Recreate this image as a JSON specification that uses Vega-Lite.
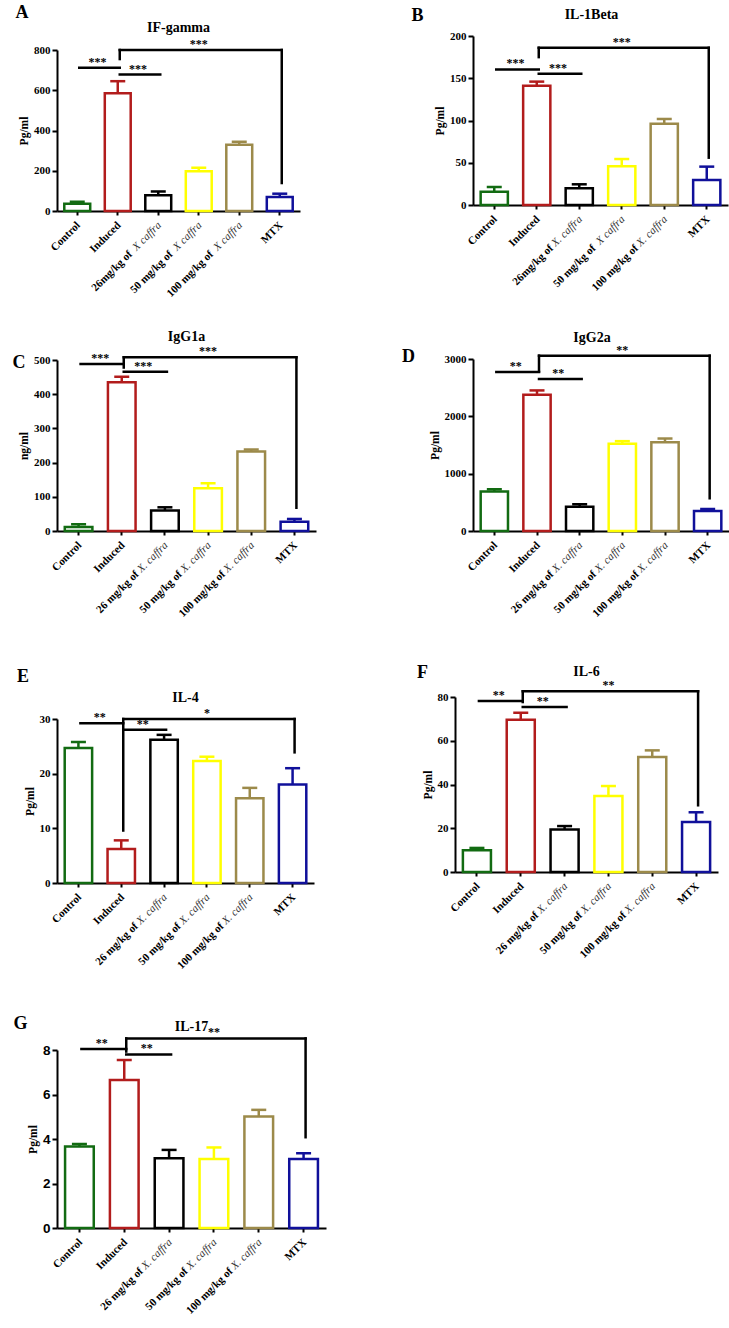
{
  "$schema": "https://vega.github.io/schema/vega-lite/v6.json",
  "background": "white",
  "padding": {"left": 12, "top": 4, "right": 0, "bottom": 0},
  "config": {
    "view": {"stroke": null},
    "font": "Liberation Serif",
    "axis": {"domainColor": "black", "domainWidth": 2, "tickColor": "black", "tickWidth": 2, "tickSize": 5, "grid": false, "labelFont": "Liberation Serif", "labelFontWeight": "bold", "labelFontSize": 11, "labelColor": "black", "titleFont": "Liberation Serif", "titleFontWeight": "bold", "titleFontSize": 11.5, "titleColor": "black"},
    "title": {"font": "Liberation Serif", "fontWeight": "bold", "fontSize": 14, "color": "black"},
    "text": {"color": "black", "font": "Liberation Serif"},
    "rule": {"color": "black"}
  },
  "data": {"values": [
    {"p":"A","k":"bar","g":"Control","m":36,"e":46,"lb":"Control","li":""},
    {"p":"A","k":"bar","g":"Induced","m":585,"e":645,"lb":"Induced","li":""},
    {"p":"A","k":"bar","g":"26 mg","m":78,"e":97,"lb":"26mg/kg of","li":"X caffra"},
    {"p":"A","k":"bar","g":"50 mg","m":197,"e":215,"lb":"50 mg/kg of","li":"X caffra"},
    {"p":"A","k":"bar","g":"100 mg","m":329,"e":344,"lb":"100 mg/kg of","li":"X caffra"},
    {"p":"A","k":"bar","g":"MTX","m":69,"e":86,"lb":"MTX","li":""},
    {"p":"A","k":"seg","g":"Control","g2":"Induced","m":712,"m2":712},
    {"p":"A","k":"seg","g":"Induced","g2":"26 mg","m":678,"m2":678},
    {"p":"A","k":"seg","g":"Induced","g2":"Induced","m":755,"m2":800},
    {"p":"A","k":"seg","g":"Induced","g2":"MTX","m":800,"m2":800},
    {"p":"A","k":"seg","g":"MTX","g2":"MTX","m":800,"m2":139},
    {"p":"A","k":"star","g":"Control","m":712,"t":"***","mid":true},
    {"p":"A","k":"star","g":"Induced","m":678,"t":"***","mid":true},
    {"p":"A","k":"star","g":"50 mg","m":800,"t":"***","mid":false},

    {"p":"B","k":"bar","g":"Control","m":15.8,"e":21.3,"lb":"Control","li":""},
    {"p":"B","k":"bar","g":"Induced","m":141,"e":146,"lb":"Induced","li":""},
    {"p":"B","k":"bar","g":"26 mg","m":19.7,"e":24.5,"lb":"26mg/kg of","li":"X. caffra"},
    {"p":"B","k":"bar","g":"50 mg","m":45.8,"e":54.4,"lb":"50 mg/kg of","li":"X caffra"},
    {"p":"B","k":"bar","g":"100 mg","m":96.3,"e":101.8,"lb":"100 mg/kg of","li":"X. caffra"},
    {"p":"B","k":"bar","g":"MTX","m":29.6,"e":45.4,"lb":"MTX","li":""},
    {"p":"B","k":"seg","g":"Control","g2":"Induced","m":160.5,"m2":160.5},
    {"p":"B","k":"seg","g":"Induced","g2":"26 mg","m":155.4,"m2":155.4},
    {"p":"B","k":"seg","g":"Induced","g2":"Induced","m":175,"m2":186},
    {"p":"B","k":"seg","g":"Induced","g2":"MTX","m":186,"m2":186},
    {"p":"B","k":"seg","g":"MTX","g2":"MTX","m":186,"m2":56},
    {"p":"B","k":"star","g":"Control","m":160.5,"t":"***","mid":true},
    {"p":"B","k":"star","g":"Induced","m":155.4,"t":"***","mid":true},
    {"p":"B","k":"star","g":"50 mg","m":186,"t":"***","mid":false},

    {"p":"C","k":"bar","g":"Control","m":11.7,"e":19.5,"lb":"Control","li":""},
    {"p":"C","k":"bar","g":"Induced","m":435,"e":451,"lb":"Induced","li":""},
    {"p":"C","k":"bar","g":"26 mg","m":59.6,"e":69.3,"lb":"26 mg/kg of","li":"X. caffra"},
    {"p":"C","k":"bar","g":"50 mg","m":125,"e":139.6,"lb":"50 mg/kg of","li":"X. caffra"},
    {"p":"C","k":"bar","g":"100 mg","m":232.4,"e":238.3,"lb":"100 mg/kg of","li":"X. caffra"},
    {"p":"C","k":"bar","g":"MTX","m":27.3,"e":35.2,"lb":"MTX","li":""},
    {"p":"C","k":"seg","g":"Control","g2":"Induced","m":488,"m2":488},
    {"p":"C","k":"seg","g":"Induced","g2":"26 mg","m":466,"m2":466},
    {"p":"C","k":"seg","g":"Induced","g2":"Induced","m":478,"m2":508},
    {"p":"C","k":"seg","g":"Induced","g2":"MTX","m":508,"m2":508},
    {"p":"C","k":"seg","g":"MTX","g2":"MTX","m":508,"m2":68},
    {"p":"C","k":"star","g":"Control","m":488,"t":"***","mid":true},
    {"p":"C","k":"star","g":"Induced","m":466,"t":"***","mid":true},
    {"p":"C","k":"star","g":"50 mg","m":508,"t":"***","mid":false},

    {"p":"D","k":"bar","g":"Control","m":687,"e":728,"lb":"Control","li":""},
    {"p":"D","k":"bar","g":"Induced","m":2376,"e":2452,"lb":"Induced","li":""},
    {"p":"D","k":"bar","g":"26 mg","m":425,"e":466,"lb":"26 mg/kg of","li":"X. caffra"},
    {"p":"D","k":"bar","g":"50 mg","m":1520,"e":1567,"lb":"50 mg/kg of","li":"X. caffra"},
    {"p":"D","k":"bar","g":"100 mg","m":1549,"e":1613,"lb":"100 mg/kg of","li":"X. caffra"},
    {"p":"D","k":"bar","g":"MTX","m":349,"e":384,"lb":"MTX","li":""},
    {"p":"D","k":"seg","g":"Control","g2":"Induced","m":2772,"m2":2772},
    {"p":"D","k":"seg","g":"Induced","g2":"26 mg","m":2650,"m2":2650},
    {"p":"D","k":"seg","g":"Induced","g2":"Induced","m":2784,"m2":3058},
    {"p":"D","k":"seg","g":"Induced","g2":"MTX","m":3058,"m2":3058},
    {"p":"D","k":"seg","g":"MTX","g2":"MTX","m":3058,"m2":571},
    {"p":"D","k":"star","g":"Control","m":2772,"t":"**","mid":true},
    {"p":"D","k":"star","g":"Induced","m":2650,"t":"**","mid":true},
    {"p":"D","k":"star","g":"50 mg","m":3058,"t":"**","mid":false},

    {"p":"E","k":"bar","g":"Control","m":24.7,"e":25.8,"lb":"Control","li":""},
    {"p":"E","k":"bar","g":"Induced","m":6.2,"e":7.8,"lb":"Induced","li":""},
    {"p":"E","k":"bar","g":"26 mg","m":26.2,"e":27.1,"lb":"26 mg/kg of","li":"X. caffra"},
    {"p":"E","k":"bar","g":"50 mg","m":22.3,"e":23.1,"lb":"50 mg/kg of","li":"X. caffra"},
    {"p":"E","k":"bar","g":"100 mg","m":15.5,"e":17.4,"lb":"100 mg/kg of","li":"X. caffra"},
    {"p":"E","k":"bar","g":"MTX","m":18.0,"e":21.0,"lb":"MTX","li":""},
    {"p":"E","k":"seg","g":"Control","g2":"Induced","m":29.2,"m2":29.2},
    {"p":"E","k":"seg","g":"Induced","g2":"26 mg","m":28.05,"m2":28.05},
    {"p":"E","k":"seg","g":"Induced","g2":"Induced","m":9.6,"m2":30},
    {"p":"E","k":"seg","g":"Induced","g2":"MTX","m":30,"m2":30},
    {"p":"E","k":"seg","g":"MTX","g2":"MTX","m":30,"m2":23.9},
    {"p":"E","k":"star","g":"Control","m":29.2,"t":"**","mid":true},
    {"p":"E","k":"star","g":"Induced","m":28.05,"t":"**","mid":true},
    {"p":"E","k":"star","g":"50 mg","m":30,"t":"*","mid":false},

    {"p":"F","k":"bar","g":"Control","m":9.9,"e":11.0,"lb":"Control","li":""},
    {"p":"F","k":"bar","g":"Induced","m":69.6,"e":72.8,"lb":"Induced","li":""},
    {"p":"F","k":"bar","g":"26 mg","m":19.4,"e":21.0,"lb":"26 mg/kg of","li":"X. caffra"},
    {"p":"F","k":"bar","g":"50 mg","m":34.7,"e":39.3,"lb":"50 mg/kg of","li":"X. caffra"},
    {"p":"F","k":"bar","g":"100 mg","m":52.6,"e":55.6,"lb":"100 mg/kg of","li":"X. caffra"},
    {"p":"F","k":"bar","g":"MTX","m":22.9,"e":27.3,"lb":"MTX","li":""},
    {"p":"F","k":"seg","g":"Control","g2":"Induced","m":78.2,"m2":78.2},
    {"p":"F","k":"seg","g":"Induced","g2":"26 mg","m":75.4,"m2":75.4},
    {"p":"F","k":"seg","g":"Induced","g2":"Induced","m":77.7,"m2":82.6},
    {"p":"F","k":"seg","g":"Induced","g2":"MTX","m":82.6,"m2":82.6},
    {"p":"F","k":"seg","g":"MTX","g2":"MTX","m":82.6,"m2":30.5},
    {"p":"F","k":"star","g":"Control","m":78.2,"t":"**","mid":true},
    {"p":"F","k":"star","g":"Induced","m":75.4,"t":"**","mid":true},
    {"p":"F","k":"star","g":"50 mg","m":82.6,"t":"**","mid":false},

    {"p":"G","k":"bar","g":"Control","m":3.66,"e":3.78,"lb":"Control","li":""},
    {"p":"G","k":"bar","g":"Induced","m":6.65,"e":7.55,"lb":"Induced","li":""},
    {"p":"G","k":"bar","g":"26 mg","m":3.14,"e":3.51,"lb":"26 mg/kg of","li":"X. caffra"},
    {"p":"G","k":"bar","g":"50 mg","m":3.10,"e":3.62,"lb":"50 mg/kg of","li":"X. caffra"},
    {"p":"G","k":"bar","g":"100 mg","m":5.01,"e":5.31,"lb":"100 mg/kg of","li":"X. caffra"},
    {"p":"G","k":"bar","g":"MTX","m":3.10,"e":3.36,"lb":"MTX","li":""},
    {"p":"G","k":"seg","g":"Control","g2":"Induced","m":8.04,"m2":8.04},
    {"p":"G","k":"seg","g":"Induced","g2":"26 mg","m":7.8,"m2":7.8},
    {"p":"G","k":"seg","g":"Induced","g2":"Induced","m":7.93,"m2":8.52},
    {"p":"G","k":"seg","g":"Induced","g2":"MTX","m":8.52,"m2":8.52},
    {"p":"G","k":"seg","g":"MTX","g2":"MTX","m":8.52,"m2":4.08},
    {"p":"G","k":"star","g":"Control","m":8.04,"t":"**","mid":true},
    {"p":"G","k":"star","g":"Induced","m":7.8,"t":"**","mid":true},
    {"p":"G","k":"star","g":"50 mg","m":8.52,"t":"**","mid":false}
  ]},
  "columns": 2,
  "align": "none",
  "spacing": 76,
  "concat": [
    {
      "spacing": 30,
      "vconcat": [
        {
          "title": {"text": "A", "anchor": "start", "frame": "bounds", "fontSize": 18, "dx": -3, "offset": -1},
          "vconcat": [{
            "width": 243, "height": 175,
            "title": {"text": "IF-gamma", "offset": 1},
            "transform": [{"filter": "datum.p === 'A'"}],
            "encoding": {
              "x": {"field": "g", "type": "nominal", "sort": null, "scale": {"domain": ["Control","Induced","26 mg","50 mg","100 mg","MTX"], "paddingInner": 0.36, "paddingOuter": 0.18}, "axis": {"labels": false, "title": null, "tickSize": 4}},
              "y": {"field": "m", "type": "quantitative", "scale": {"domain": [0, 800], "nice": false, "range": [175, 14]}, "axis": {"values": [0,200,400,600,800], "title": "Pg/ml"}}
            },
            "layer": [
              {"transform": [{"filter": "datum.k === 'bar'"}], "mark": {"type": "bar", "fill": "white", "strokeWidth": 2.5}, "encoding": {"stroke": {"field": "g", "type": "nominal", "scale": {"domain": ["Control","Induced","26 mg","50 mg","100 mg","MTX"], "range": ["#126b12","#b21c1c","#000000","#ffff00","#9c8a4a","#10109a"]}, "legend": null}}},
              {"transform": [{"filter": "datum.k === 'bar'"}], "mark": {"type": "rule", "strokeWidth": 2.5}, "encoding": {"y2": {"field": "e"}, "stroke": {"field": "g", "type": "nominal", "legend": null}}},
              {"transform": [{"filter": "datum.k === 'bar'"}], "mark": {"type": "tick", "size": 15, "thickness": 2.5, "opacity": 1}, "encoding": {"y": {"field": "e", "type": "quantitative"}, "color": {"field": "g", "type": "nominal", "scale": {"domain": ["Control","Induced","26 mg","50 mg","100 mg","MTX"], "range": ["#126b12","#b21c1c","#000000","#ffff00","#9c8a4a","#10109a"]}, "legend": null}}},
              {"transform": [{"filter": "datum.k === 'seg'"}], "mark": {"type": "rule", "color": "black", "strokeWidth": 2.5, "strokeCap": "square", "xOffset": 2, "x2Offset": 2}, "encoding": {"x2": {"field": "g2"}, "y2": {"field": "m2"}}},
              {"transform": [{"filter": "datum.k === 'star' && datum.mid"}], "mark": {"type": "text", "color": "black", "fontSize": 12, "fontWeight": "bold", "baseline": "alphabetic", "dy": -2}, "encoding": {"x": {"field": "g", "type": "nominal", "bandPosition": 1.28}, "text": {"field": "t"}}},
              {"transform": [{"filter": "datum.k === 'star' && !datum.mid"}], "mark": {"type": "text", "color": "black", "fontSize": 12, "fontWeight": "bold", "baseline": "alphabetic", "dy": -2}, "encoding": {"text": {"field": "t"}}},
              {"transform": [{"filter": "datum.k === 'bar' && datum.li === ''"}], "mark": {"type": "text", "color": "black", "angle": 315, "align": "right", "baseline": "middle", "fontSize": 11, "fontWeight": "bold", "dx": -8, "dy": 10}, "encoding": {"y": {"datum": 0}, "text": {"field": "lb"}}},
              {"transform": [{"filter": "datum.k === 'bar' && datum.li !== ''"}], "mark": {"type": "text", "color": "black", "angle": 315, "align": "right", "baseline": "middle", "fontSize": 11, "fontWeight": "bold", "dx": -49, "dy": 10}, "encoding": {"y": {"datum": 0}, "text": {"field": "lb"}}},
              {"transform": [{"filter": "datum.k === 'bar' && datum.li !== ''"}], "mark": {"type": "text", "angle": 315, "align": "right", "baseline": "middle", "fontSize": 11, "fontStyle": "italic", "fontWeight": "normal", "color": "#333333", "dx": -8, "dy": 10}, "encoding": {"y": {"datum": 0}, "text": {"field": "li"}}}
            ]
          }]
        },
        {
          "spacing": 48,
          "vconcat": [
            {
              "title": {"text": "C", "anchor": "start", "frame": "bounds", "fontSize": 18, "dx": -6, "dy": 26, "offset": -16},
              "vconcat": [{
                "width": 259, "height": 171,
                "title": {"text": "IgG1a", "offset": 1},
                "transform": [{"filter": "datum.p === 'C'"}],
                "encoding": {
                  "x": {"field": "g", "type": "nominal", "sort": null, "scale": {"domain": ["Control","Induced","26 mg","50 mg","100 mg","MTX"], "paddingInner": 0.36, "paddingOuter": 0.18}, "axis": {"labels": false, "title": null, "tickSize": 4}},
                  "y": {"field": "m", "type": "quantitative", "scale": {"domain": [0, 500], "nice": false}, "axis": {"values": [0,100,200,300,400,500], "title": "ng/ml"}}
                },
                "layer": [
                  {"transform": [{"filter": "datum.k === 'bar'"}], "mark": {"type": "bar", "fill": "white", "strokeWidth": 2.5}, "encoding": {"stroke": {"field": "g", "type": "nominal", "scale": {"domain": ["Control","Induced","26 mg","50 mg","100 mg","MTX"], "range": ["#126b12","#b21c1c","#000000","#ffff00","#9c8a4a","#10109a"]}, "legend": null}}},
                  {"transform": [{"filter": "datum.k === 'bar'"}], "mark": {"type": "rule", "strokeWidth": 2.5}, "encoding": {"y2": {"field": "e"}, "stroke": {"field": "g", "type": "nominal", "legend": null}}},
                  {"transform": [{"filter": "datum.k === 'bar'"}], "mark": {"type": "tick", "size": 15, "thickness": 2.5, "opacity": 1}, "encoding": {"y": {"field": "e", "type": "quantitative"}, "color": {"field": "g", "type": "nominal", "scale": {"domain": ["Control","Induced","26 mg","50 mg","100 mg","MTX"], "range": ["#126b12","#b21c1c","#000000","#ffff00","#9c8a4a","#10109a"]}, "legend": null}}},
                  {"transform": [{"filter": "datum.k === 'seg'"}], "mark": {"type": "rule", "color": "black", "strokeWidth": 2.5, "strokeCap": "square", "xOffset": 2, "x2Offset": 2}, "encoding": {"x2": {"field": "g2"}, "y2": {"field": "m2"}}},
                  {"transform": [{"filter": "datum.k === 'star' && datum.mid"}], "mark": {"type": "text", "color": "black", "fontSize": 12, "fontWeight": "bold", "baseline": "alphabetic", "dy": -2}, "encoding": {"x": {"field": "g", "type": "nominal", "bandPosition": 1.28}, "text": {"field": "t"}}},
                  {"transform": [{"filter": "datum.k === 'star' && !datum.mid"}], "mark": {"type": "text", "color": "black", "fontSize": 12, "fontWeight": "bold", "baseline": "alphabetic", "dy": -2}, "encoding": {"text": {"field": "t"}}},
                  {"transform": [{"filter": "datum.k === 'bar' && datum.li === ''"}], "mark": {"type": "text", "color": "black", "angle": 315, "align": "right", "baseline": "middle", "fontSize": 11, "fontWeight": "bold", "dx": -8, "dy": 10}, "encoding": {"y": {"datum": 0}, "text": {"field": "lb"}}},
                  {"transform": [{"filter": "datum.k === 'bar' && datum.li !== ''"}], "mark": {"type": "text", "color": "black", "angle": 315, "align": "right", "baseline": "middle", "fontSize": 11, "fontWeight": "bold", "dx": -49, "dy": 10}, "encoding": {"y": {"datum": 0}, "text": {"field": "lb"}}},
                  {"transform": [{"filter": "datum.k === 'bar' && datum.li !== ''"}], "mark": {"type": "text", "angle": 315, "align": "right", "baseline": "middle", "fontSize": 11, "fontStyle": "italic", "fontWeight": "normal", "color": "#333333", "dx": -8, "dy": 10}, "encoding": {"y": {"datum": 0}, "text": {"field": "li"}}}
                ]
              }]
            },
            {
              "spacing": 43,
              "vconcat": [
                {
                  "title": {"text": "E", "anchor": "start", "frame": "bounds", "fontSize": 18, "dx": -7, "offset": 5},
                  "vconcat": [{
                    "width": 257, "height": 164,
                    "title": {"text": "IL-4", "offset": 2},
                    "transform": [{"filter": "datum.p === 'E'"}],
                    "encoding": {
                      "x": {"field": "g", "type": "nominal", "sort": null, "scale": {"domain": ["Control","Induced","26 mg","50 mg","100 mg","MTX"], "paddingInner": 0.36, "paddingOuter": 0.18}, "axis": {"labels": false, "title": null, "tickSize": 4}},
                      "y": {"field": "m", "type": "quantitative", "scale": {"domain": [0, 30], "nice": false}, "axis": {"values": [0,10,20,30], "title": "Pg/ml"}}
                    },
                    "layer": [
                      {"transform": [{"filter": "datum.k === 'bar'"}], "mark": {"type": "bar", "fill": "white", "strokeWidth": 2.5}, "encoding": {"stroke": {"field": "g", "type": "nominal", "scale": {"domain": ["Control","Induced","26 mg","50 mg","100 mg","MTX"], "range": ["#126b12","#b21c1c","#000000","#ffff00","#9c8a4a","#10109a"]}, "legend": null}}},
                      {"transform": [{"filter": "datum.k === 'bar'"}], "mark": {"type": "rule", "strokeWidth": 2.5}, "encoding": {"y2": {"field": "e"}, "stroke": {"field": "g", "type": "nominal", "legend": null}}},
                      {"transform": [{"filter": "datum.k === 'bar'"}], "mark": {"type": "tick", "size": 15, "thickness": 2.5, "opacity": 1}, "encoding": {"y": {"field": "e", "type": "quantitative"}, "color": {"field": "g", "type": "nominal", "scale": {"domain": ["Control","Induced","26 mg","50 mg","100 mg","MTX"], "range": ["#126b12","#b21c1c","#000000","#ffff00","#9c8a4a","#10109a"]}, "legend": null}}},
                      {"transform": [{"filter": "datum.k === 'seg'"}], "mark": {"type": "rule", "color": "black", "strokeWidth": 2.5, "strokeCap": "square", "xOffset": 2, "x2Offset": 2}, "encoding": {"x2": {"field": "g2"}, "y2": {"field": "m2"}}},
                      {"transform": [{"filter": "datum.k === 'star' && datum.mid"}], "mark": {"type": "text", "color": "black", "fontSize": 12, "fontWeight": "bold", "baseline": "alphabetic", "dy": -2}, "encoding": {"x": {"field": "g", "type": "nominal", "bandPosition": 1.28}, "text": {"field": "t"}}},
                      {"transform": [{"filter": "datum.k === 'star' && !datum.mid"}], "mark": {"type": "text", "color": "black", "fontSize": 12, "fontWeight": "bold", "baseline": "alphabetic", "dy": -2}, "encoding": {"text": {"field": "t"}}},
                      {"transform": [{"filter": "datum.k === 'bar' && datum.li === ''"}], "mark": {"type": "text", "color": "black", "angle": 315, "align": "right", "baseline": "middle", "fontSize": 11, "fontWeight": "bold", "dx": -8, "dy": 10}, "encoding": {"y": {"datum": 0}, "text": {"field": "lb"}}},
                      {"transform": [{"filter": "datum.k === 'bar' && datum.li !== ''"}], "mark": {"type": "text", "color": "black", "angle": 315, "align": "right", "baseline": "middle", "fontSize": 11, "fontWeight": "bold", "dx": -49, "dy": 10}, "encoding": {"y": {"datum": 0}, "text": {"field": "lb"}}},
                      {"transform": [{"filter": "datum.k === 'bar' && datum.li !== ''"}], "mark": {"type": "text", "angle": 315, "align": "right", "baseline": "middle", "fontSize": 11, "fontStyle": "italic", "fontWeight": "normal", "color": "#333333", "dx": -8, "dy": 10}, "encoding": {"y": {"datum": 0}, "text": {"field": "li"}}}
                    ]
                  }]
                },
                {
                  "title": {"text": "G", "anchor": "start", "frame": "bounds", "fontSize": 18, "dx": -14, "dy": 0, "offset": -13},
                  "vconcat": [{
                    "width": 269, "height": 178,
                    "title": {"text": "IL-17", "offset": -8},
                    "transform": [{"filter": "datum.p === 'G'"}],
                    "encoding": {
                      "x": {"field": "g", "type": "nominal", "sort": null, "scale": {"domain": ["Control","Induced","26 mg","50 mg","100 mg","MTX"], "paddingInner": 0.36, "paddingOuter": 0.18}, "axis": {"labels": false, "title": null, "tickSize": 4}},
                      "y": {"field": "m", "type": "quantitative", "scale": {"domain": [0, 8], "nice": false}, "axis": {"values": [0,2,4,6,8], "title": "Pg/ml", "labelFont": "Liberation Sans", "labelFontSize": 13.5}}
                    },
                    "layer": [
                      {"transform": [{"filter": "datum.k === 'bar'"}], "mark": {"type": "bar", "fill": "white", "strokeWidth": 2.5}, "encoding": {"stroke": {"field": "g", "type": "nominal", "scale": {"domain": ["Control","Induced","26 mg","50 mg","100 mg","MTX"], "range": ["#126b12","#b21c1c","#000000","#ffff00","#9c8a4a","#10109a"]}, "legend": null}}},
                      {"transform": [{"filter": "datum.k === 'bar'"}], "mark": {"type": "rule", "strokeWidth": 2.5}, "encoding": {"y2": {"field": "e"}, "stroke": {"field": "g", "type": "nominal", "legend": null}}},
                      {"transform": [{"filter": "datum.k === 'bar'"}], "mark": {"type": "tick", "size": 15, "thickness": 2.5, "opacity": 1}, "encoding": {"y": {"field": "e", "type": "quantitative"}, "color": {"field": "g", "type": "nominal", "scale": {"domain": ["Control","Induced","26 mg","50 mg","100 mg","MTX"], "range": ["#126b12","#b21c1c","#000000","#ffff00","#9c8a4a","#10109a"]}, "legend": null}}},
                      {"transform": [{"filter": "datum.k === 'seg'"}], "mark": {"type": "rule", "color": "black", "strokeWidth": 2.5, "strokeCap": "square", "xOffset": 2, "x2Offset": 2}, "encoding": {"x2": {"field": "g2"}, "y2": {"field": "m2"}}},
                      {"transform": [{"filter": "datum.k === 'star' && datum.mid"}], "mark": {"type": "text", "color": "black", "fontSize": 12, "fontWeight": "bold", "baseline": "alphabetic", "dy": -2}, "encoding": {"x": {"field": "g", "type": "nominal", "bandPosition": 1.28}, "text": {"field": "t"}}},
                      {"transform": [{"filter": "datum.k === 'star' && !datum.mid"}], "mark": {"type": "text", "color": "black", "fontSize": 12, "fontWeight": "bold", "baseline": "alphabetic", "dy": -2}, "encoding": {"text": {"field": "t"}}},
                      {"transform": [{"filter": "datum.k === 'bar' && datum.li === ''"}], "mark": {"type": "text", "color": "black", "angle": 315, "align": "right", "baseline": "middle", "fontSize": 11, "fontWeight": "bold", "dx": -8, "dy": 10}, "encoding": {"y": {"datum": 0}, "text": {"field": "lb"}}},
                      {"transform": [{"filter": "datum.k === 'bar' && datum.li !== ''"}], "mark": {"type": "text", "color": "black", "angle": 315, "align": "right", "baseline": "middle", "fontSize": 11, "fontWeight": "bold", "dx": -49, "dy": 10}, "encoding": {"y": {"datum": 0}, "text": {"field": "lb"}}},
                      {"transform": [{"filter": "datum.k === 'bar' && datum.li !== ''"}], "mark": {"type": "text", "angle": 315, "align": "right", "baseline": "middle", "fontSize": 11, "fontStyle": "italic", "fontWeight": "normal", "color": "#333333", "dx": -8, "dy": 10}, "encoding": {"y": {"datum": 0}, "text": {"field": "li"}}}
                    ]
                  }]
                }
              ]
            }
          ]
        }
      ]
    },
    {
      "spacing": 36,
      "vconcat": [
        {
          "title": {"text": "B", "anchor": "start", "frame": "bounds", "fontSize": 18, "dx": -23, "dy": 4, "offset": -13},
          "vconcat": [{
            "width": 273, "height": 169,
            "title": {"text": "IL-1Beta", "offset": 8},
            "transform": [{"filter": "datum.p === 'B'"}],
            "encoding": {
              "x": {"field": "g", "type": "nominal", "sort": null, "scale": {"domain": ["Control","Induced","26 mg","50 mg","100 mg","MTX"], "paddingInner": 0.36, "paddingOuter": 0.18, "range": [18, 273]}, "axis": {"labels": false, "title": null, "tickSize": 4}},
              "y": {"field": "m", "type": "quantitative", "scale": {"domain": [0, 200], "nice": false}, "axis": {"values": [0,50,100,150,200], "title": "Pg/ml", "offset": -18}}
            },
            "layer": [
              {"transform": [{"filter": "datum.k === 'bar'"}], "mark": {"type": "bar", "fill": "white", "strokeWidth": 2.5}, "encoding": {"stroke": {"field": "g", "type": "nominal", "scale": {"domain": ["Control","Induced","26 mg","50 mg","100 mg","MTX"], "range": ["#126b12","#b21c1c","#000000","#ffff00","#9c8a4a","#10109a"]}, "legend": null}}},
              {"transform": [{"filter": "datum.k === 'bar'"}], "mark": {"type": "rule", "strokeWidth": 2.5}, "encoding": {"y2": {"field": "e"}, "stroke": {"field": "g", "type": "nominal", "legend": null}}},
              {"transform": [{"filter": "datum.k === 'bar'"}], "mark": {"type": "tick", "size": 15, "thickness": 2.5, "opacity": 1}, "encoding": {"y": {"field": "e", "type": "quantitative"}, "color": {"field": "g", "type": "nominal", "scale": {"domain": ["Control","Induced","26 mg","50 mg","100 mg","MTX"], "range": ["#126b12","#b21c1c","#000000","#ffff00","#9c8a4a","#10109a"]}, "legend": null}}},
              {"transform": [{"filter": "datum.k === 'seg'"}], "mark": {"type": "rule", "color": "black", "strokeWidth": 2.5, "strokeCap": "square", "xOffset": 2, "x2Offset": 2}, "encoding": {"x2": {"field": "g2"}, "y2": {"field": "m2"}}},
              {"transform": [{"filter": "datum.k === 'star' && datum.mid"}], "mark": {"type": "text", "color": "black", "fontSize": 12, "fontWeight": "bold", "baseline": "alphabetic", "dy": -2}, "encoding": {"x": {"field": "g", "type": "nominal", "bandPosition": 1.28}, "text": {"field": "t"}}},
              {"transform": [{"filter": "datum.k === 'star' && !datum.mid"}], "mark": {"type": "text", "color": "black", "fontSize": 12, "fontWeight": "bold", "baseline": "alphabetic", "dy": -2}, "encoding": {"text": {"field": "t"}}},
              {"transform": [{"filter": "datum.k === 'bar' && datum.li === ''"}], "mark": {"type": "text", "color": "black", "angle": 315, "align": "right", "baseline": "middle", "fontSize": 11, "fontWeight": "bold", "dx": -8, "dy": 10}, "encoding": {"y": {"datum": 0}, "text": {"field": "lb"}}},
              {"transform": [{"filter": "datum.k === 'bar' && datum.li !== ''"}], "mark": {"type": "text", "color": "black", "angle": 315, "align": "right", "baseline": "middle", "fontSize": 11, "fontWeight": "bold", "dx": -49, "dy": 10}, "encoding": {"y": {"datum": 0}, "text": {"field": "lb"}}},
              {"transform": [{"filter": "datum.k === 'bar' && datum.li !== ''"}], "mark": {"type": "text", "angle": 315, "align": "right", "baseline": "middle", "fontSize": 11, "fontStyle": "italic", "fontWeight": "normal", "color": "#333333", "dx": -8, "dy": 10}, "encoding": {"y": {"datum": 0}, "text": {"field": "li"}}}
            ]
          }]
        },
        {
          "spacing": 44,
          "vconcat": [
            {
              "title": {"text": "D", "anchor": "start", "frame": "bounds", "fontSize": 18, "dx": -27, "dy": 32, "offset": -3},
              "vconcat": [{
                "width": 274, "height": 172,
                "title": {"text": "IgG2a", "offset": -1},
                "transform": [{"filter": "datum.p === 'D'"}],
                "encoding": {
                  "x": {"field": "g", "type": "nominal", "sort": null, "scale": {"domain": ["Control","Induced","26 mg","50 mg","100 mg","MTX"], "paddingInner": 0.36, "paddingOuter": 0.18, "range": [18, 274]}, "axis": {"labels": false, "title": null, "tickSize": 4}},
                  "y": {"field": "m", "type": "quantitative", "scale": {"domain": [0, 3000], "nice": false}, "axis": {"values": [0,1000,2000,3000], "format": "d", "title": "Pg/ml", "offset": -18}}
                },
                "layer": [
                  {"transform": [{"filter": "datum.k === 'bar'"}], "mark": {"type": "bar", "fill": "white", "strokeWidth": 2.5}, "encoding": {"stroke": {"field": "g", "type": "nominal", "scale": {"domain": ["Control","Induced","26 mg","50 mg","100 mg","MTX"], "range": ["#126b12","#b21c1c","#000000","#ffff00","#9c8a4a","#10109a"]}, "legend": null}}},
                  {"transform": [{"filter": "datum.k === 'bar'"}], "mark": {"type": "rule", "strokeWidth": 2.5}, "encoding": {"y2": {"field": "e"}, "stroke": {"field": "g", "type": "nominal", "legend": null}}},
                  {"transform": [{"filter": "datum.k === 'bar'"}], "mark": {"type": "tick", "size": 15, "thickness": 2.5, "opacity": 1}, "encoding": {"y": {"field": "e", "type": "quantitative"}, "color": {"field": "g", "type": "nominal", "scale": {"domain": ["Control","Induced","26 mg","50 mg","100 mg","MTX"], "range": ["#126b12","#b21c1c","#000000","#ffff00","#9c8a4a","#10109a"]}, "legend": null}}},
                  {"transform": [{"filter": "datum.k === 'seg'"}], "mark": {"type": "rule", "color": "black", "strokeWidth": 2.5, "strokeCap": "square", "xOffset": 2, "x2Offset": 2}, "encoding": {"x2": {"field": "g2"}, "y2": {"field": "m2"}}},
                  {"transform": [{"filter": "datum.k === 'star' && datum.mid"}], "mark": {"type": "text", "color": "black", "fontSize": 12, "fontWeight": "bold", "baseline": "alphabetic", "dy": -2}, "encoding": {"x": {"field": "g", "type": "nominal", "bandPosition": 1.28}, "text": {"field": "t"}}},
                  {"transform": [{"filter": "datum.k === 'star' && !datum.mid"}], "mark": {"type": "text", "color": "black", "fontSize": 12, "fontWeight": "bold", "baseline": "alphabetic", "dy": -2}, "encoding": {"text": {"field": "t"}}},
                  {"transform": [{"filter": "datum.k === 'bar' && datum.li === ''"}], "mark": {"type": "text", "color": "black", "angle": 315, "align": "right", "baseline": "middle", "fontSize": 11, "fontWeight": "bold", "dx": -8, "dy": 10}, "encoding": {"y": {"datum": 0}, "text": {"field": "lb"}}},
                  {"transform": [{"filter": "datum.k === 'bar' && datum.li !== ''"}], "mark": {"type": "text", "color": "black", "angle": 315, "align": "right", "baseline": "middle", "fontSize": 11, "fontWeight": "bold", "dx": -49, "dy": 10}, "encoding": {"y": {"datum": 0}, "text": {"field": "lb"}}},
                  {"transform": [{"filter": "datum.k === 'bar' && datum.li !== ''"}], "mark": {"type": "text", "angle": 315, "align": "right", "baseline": "middle", "fontSize": 11, "fontStyle": "italic", "fontWeight": "normal", "color": "#333333", "dx": -8, "dy": 10}, "encoding": {"y": {"datum": 0}, "text": {"field": "li"}}}
                ]
              }]
            },
            {
              "title": {"text": "F", "anchor": "start", "frame": "bounds", "fontSize": 18, "dx": -5, "dy": 25, "offset": 8},
              "vconcat": [{
                "width": 263, "height": 175,
                "title": {"text": "IL-6", "offset": 0},
                "transform": [{"filter": "datum.p === 'F'"}],
                "encoding": {
                  "x": {"field": "g", "type": "nominal", "sort": null, "scale": {"domain": ["Control","Induced","26 mg","50 mg","100 mg","MTX"], "paddingInner": 0.36, "paddingOuter": 0.18}, "axis": {"labels": false, "title": null, "tickSize": 4}},
                  "y": {"field": "m", "type": "quantitative", "scale": {"domain": [0, 80], "nice": false}, "axis": {"values": [0,20,40,60,80], "title": "Pg/ml"}}
                },
                "layer": [
                  {"transform": [{"filter": "datum.k === 'bar'"}], "mark": {"type": "bar", "fill": "white", "strokeWidth": 2.5}, "encoding": {"stroke": {"field": "g", "type": "nominal", "scale": {"domain": ["Control","Induced","26 mg","50 mg","100 mg","MTX"], "range": ["#126b12","#b21c1c","#000000","#ffff00","#9c8a4a","#10109a"]}, "legend": null}}},
                  {"transform": [{"filter": "datum.k === 'bar'"}], "mark": {"type": "rule", "strokeWidth": 2.5}, "encoding": {"y2": {"field": "e"}, "stroke": {"field": "g", "type": "nominal", "legend": null}}},
                  {"transform": [{"filter": "datum.k === 'bar'"}], "mark": {"type": "tick", "size": 15, "thickness": 2.5, "opacity": 1}, "encoding": {"y": {"field": "e", "type": "quantitative"}, "color": {"field": "g", "type": "nominal", "scale": {"domain": ["Control","Induced","26 mg","50 mg","100 mg","MTX"], "range": ["#126b12","#b21c1c","#000000","#ffff00","#9c8a4a","#10109a"]}, "legend": null}}},
                  {"transform": [{"filter": "datum.k === 'seg'"}], "mark": {"type": "rule", "color": "black", "strokeWidth": 2.5, "strokeCap": "square", "xOffset": 2, "x2Offset": 2}, "encoding": {"x2": {"field": "g2"}, "y2": {"field": "m2"}}},
                  {"transform": [{"filter": "datum.k === 'star' && datum.mid"}], "mark": {"type": "text", "color": "black", "fontSize": 12, "fontWeight": "bold", "baseline": "alphabetic", "dy": -2}, "encoding": {"x": {"field": "g", "type": "nominal", "bandPosition": 1.28}, "text": {"field": "t"}}},
                  {"transform": [{"filter": "datum.k === 'star' && !datum.mid"}], "mark": {"type": "text", "color": "black", "fontSize": 12, "fontWeight": "bold", "baseline": "alphabetic", "dy": -2}, "encoding": {"text": {"field": "t"}}},
                  {"transform": [{"filter": "datum.k === 'bar' && datum.li === ''"}], "mark": {"type": "text", "color": "black", "angle": 315, "align": "right", "baseline": "middle", "fontSize": 11, "fontWeight": "bold", "dx": -8, "dy": 10}, "encoding": {"y": {"datum": 0}, "text": {"field": "lb"}}},
                  {"transform": [{"filter": "datum.k === 'bar' && datum.li !== ''"}], "mark": {"type": "text", "color": "black", "angle": 315, "align": "right", "baseline": "middle", "fontSize": 11, "fontWeight": "bold", "dx": -49, "dy": 10}, "encoding": {"y": {"datum": 0}, "text": {"field": "lb"}}},
                  {"transform": [{"filter": "datum.k === 'bar' && datum.li !== ''"}], "mark": {"type": "text", "angle": 315, "align": "right", "baseline": "middle", "fontSize": 11, "fontStyle": "italic", "fontWeight": "normal", "color": "#333333", "dx": -8, "dy": 10}, "encoding": {"y": {"datum": 0}, "text": {"field": "li"}}}
                ]
              }]
            }
          ]
        }
      ]
    }
  ]
}
